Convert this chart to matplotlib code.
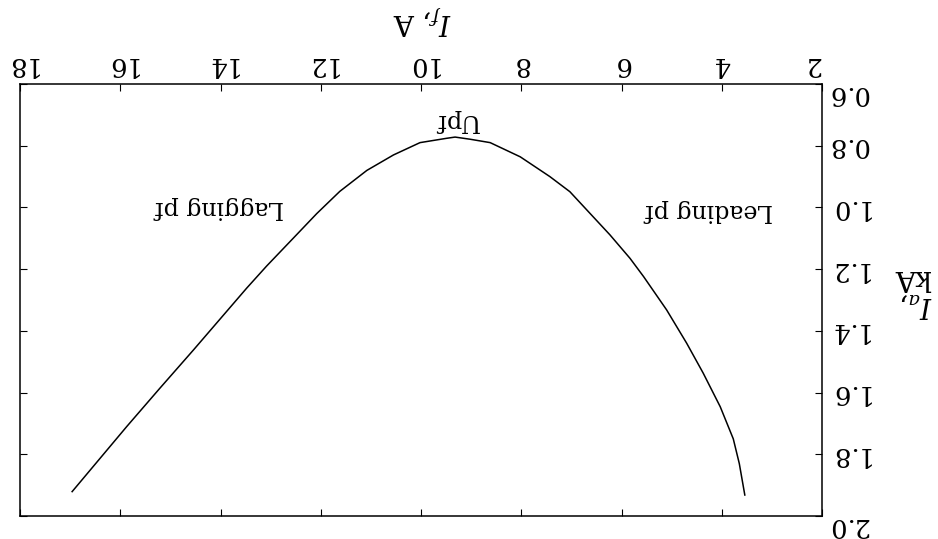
import matplotlib
matplotlib.use("Agg")
import matplotlib.pyplot as plt
from matplotlib.transforms import ScaledTranslation

plt.rcParams['font.family'] = 'DejaVu Serif'
plt.rcParams['mathtext.fontset'] = 'dejavuserif'

# V-curve: armature current vs field current
field_current = [16.96, 15.87, 15.21, 14.54, 14.01, 13.48, 13.08, 12.55, 12.08, 11.62,
                 11.08, 10.55, 10.02, 9.49, 9.32, 9.02, 8.62, 8.02, 7.43, 7.03,
                 6.63, 6.23, 5.83, 5.56, 5.10, 4.70, 4.37, 4.03, 3.77, 3.65, 3.54]
armature_current = [1.921, 1.710, 1.586, 1.462, 1.362, 1.262, 1.190, 1.100, 1.020, 0.948,
                    0.880, 0.830, 0.790, 0.776, 0.772, 0.779, 0.790, 0.836, 0.900, 0.949,
                    1.019, 1.089, 1.165, 1.224, 1.332, 1.440, 1.537, 1.646, 1.750, 1.830, 1.932]

x_ticks = [2, 4, 6, 8, 10, 12, 14, 16, 18]
y_ticks = [0.6, 0.8, 1.0, 1.2, 1.4, 1.6, 1.8, 2.0]
y_tick_labels = ['0.6', '0.8', '1.0', '1.2', '1.4', '1.6', '1.8', '2.0']

notes = ['Lagging pf', 'Upf', 'Leading pf']
note_x = [14.03, 9.28, 4.25]
note_y = [1.0, 0.717, 1.01]

fig = plt.figure(figsize=(9.38, 5.39), dpi=100)
ax = fig.add_axes([20 / 938, 23 / 539, 802 / 938, 432 / 539])

ax.plot(field_current, armature_current, color='black', lw=1.1)

# whole sheet is printed upside down
ax.set_xlim(18, 2)
ax.set_ylim(2.0, 0.6)
ax.xaxis.tick_top()
ax.yaxis.tick_right()
ax.set_xticks(x_ticks)
ax.set_yticks(y_ticks)
ax.set_xticklabels([str(t) for t in x_ticks], rotation=180, fontsize=18.5)
ax.set_yticklabels(y_tick_labels, rotation=180, fontsize=18.5, va='center')
ax.tick_params(direction='in', length=5, width=0.8, top=True, bottom=True,
               left=True, right=True, labelbottom=False, labelleft=False)
ax.tick_params(axis='x', pad=5)
ax.tick_params(axis='y', pad=4)
for s in ax.spines.values():
    s.set_linewidth(1.1)

# nudge the corner labels apart
ylabels = ax.get_yticklabels()
ylabels[0].set_transform(ylabels[0].get_transform() + ScaledTranslation(0, -0.10, fig.dpi_scale_trans))
ylabels[-1].set_transform(ylabels[-1].get_transform() + ScaledTranslation(0, -0.10, fig.dpi_scale_trans))
xlabels = ax.get_xticklabels()
xlabels[0].set_transform(xlabels[0].get_transform() + ScaledTranslation(-0.10, 0, fig.dpi_scale_trans))

for t, x, y in zip(notes, note_x, note_y):
    ax.text(x, y, t, rotation=180, ha='center', va='center', fontsize=17)

fig.text(421 / 938, 1 - 20 / 539, r'$I_f$, A', rotation=180, ha='center', va='center', fontsize=20)
fig.text(913 / 938, 1 - 292 / 539, '$I_a$,\nkA', rotation=180, ha='center', va='center',
         fontsize=20, multialignment='left', linespacing=0.95)

fig.savefig('out.png', dpi=100)
